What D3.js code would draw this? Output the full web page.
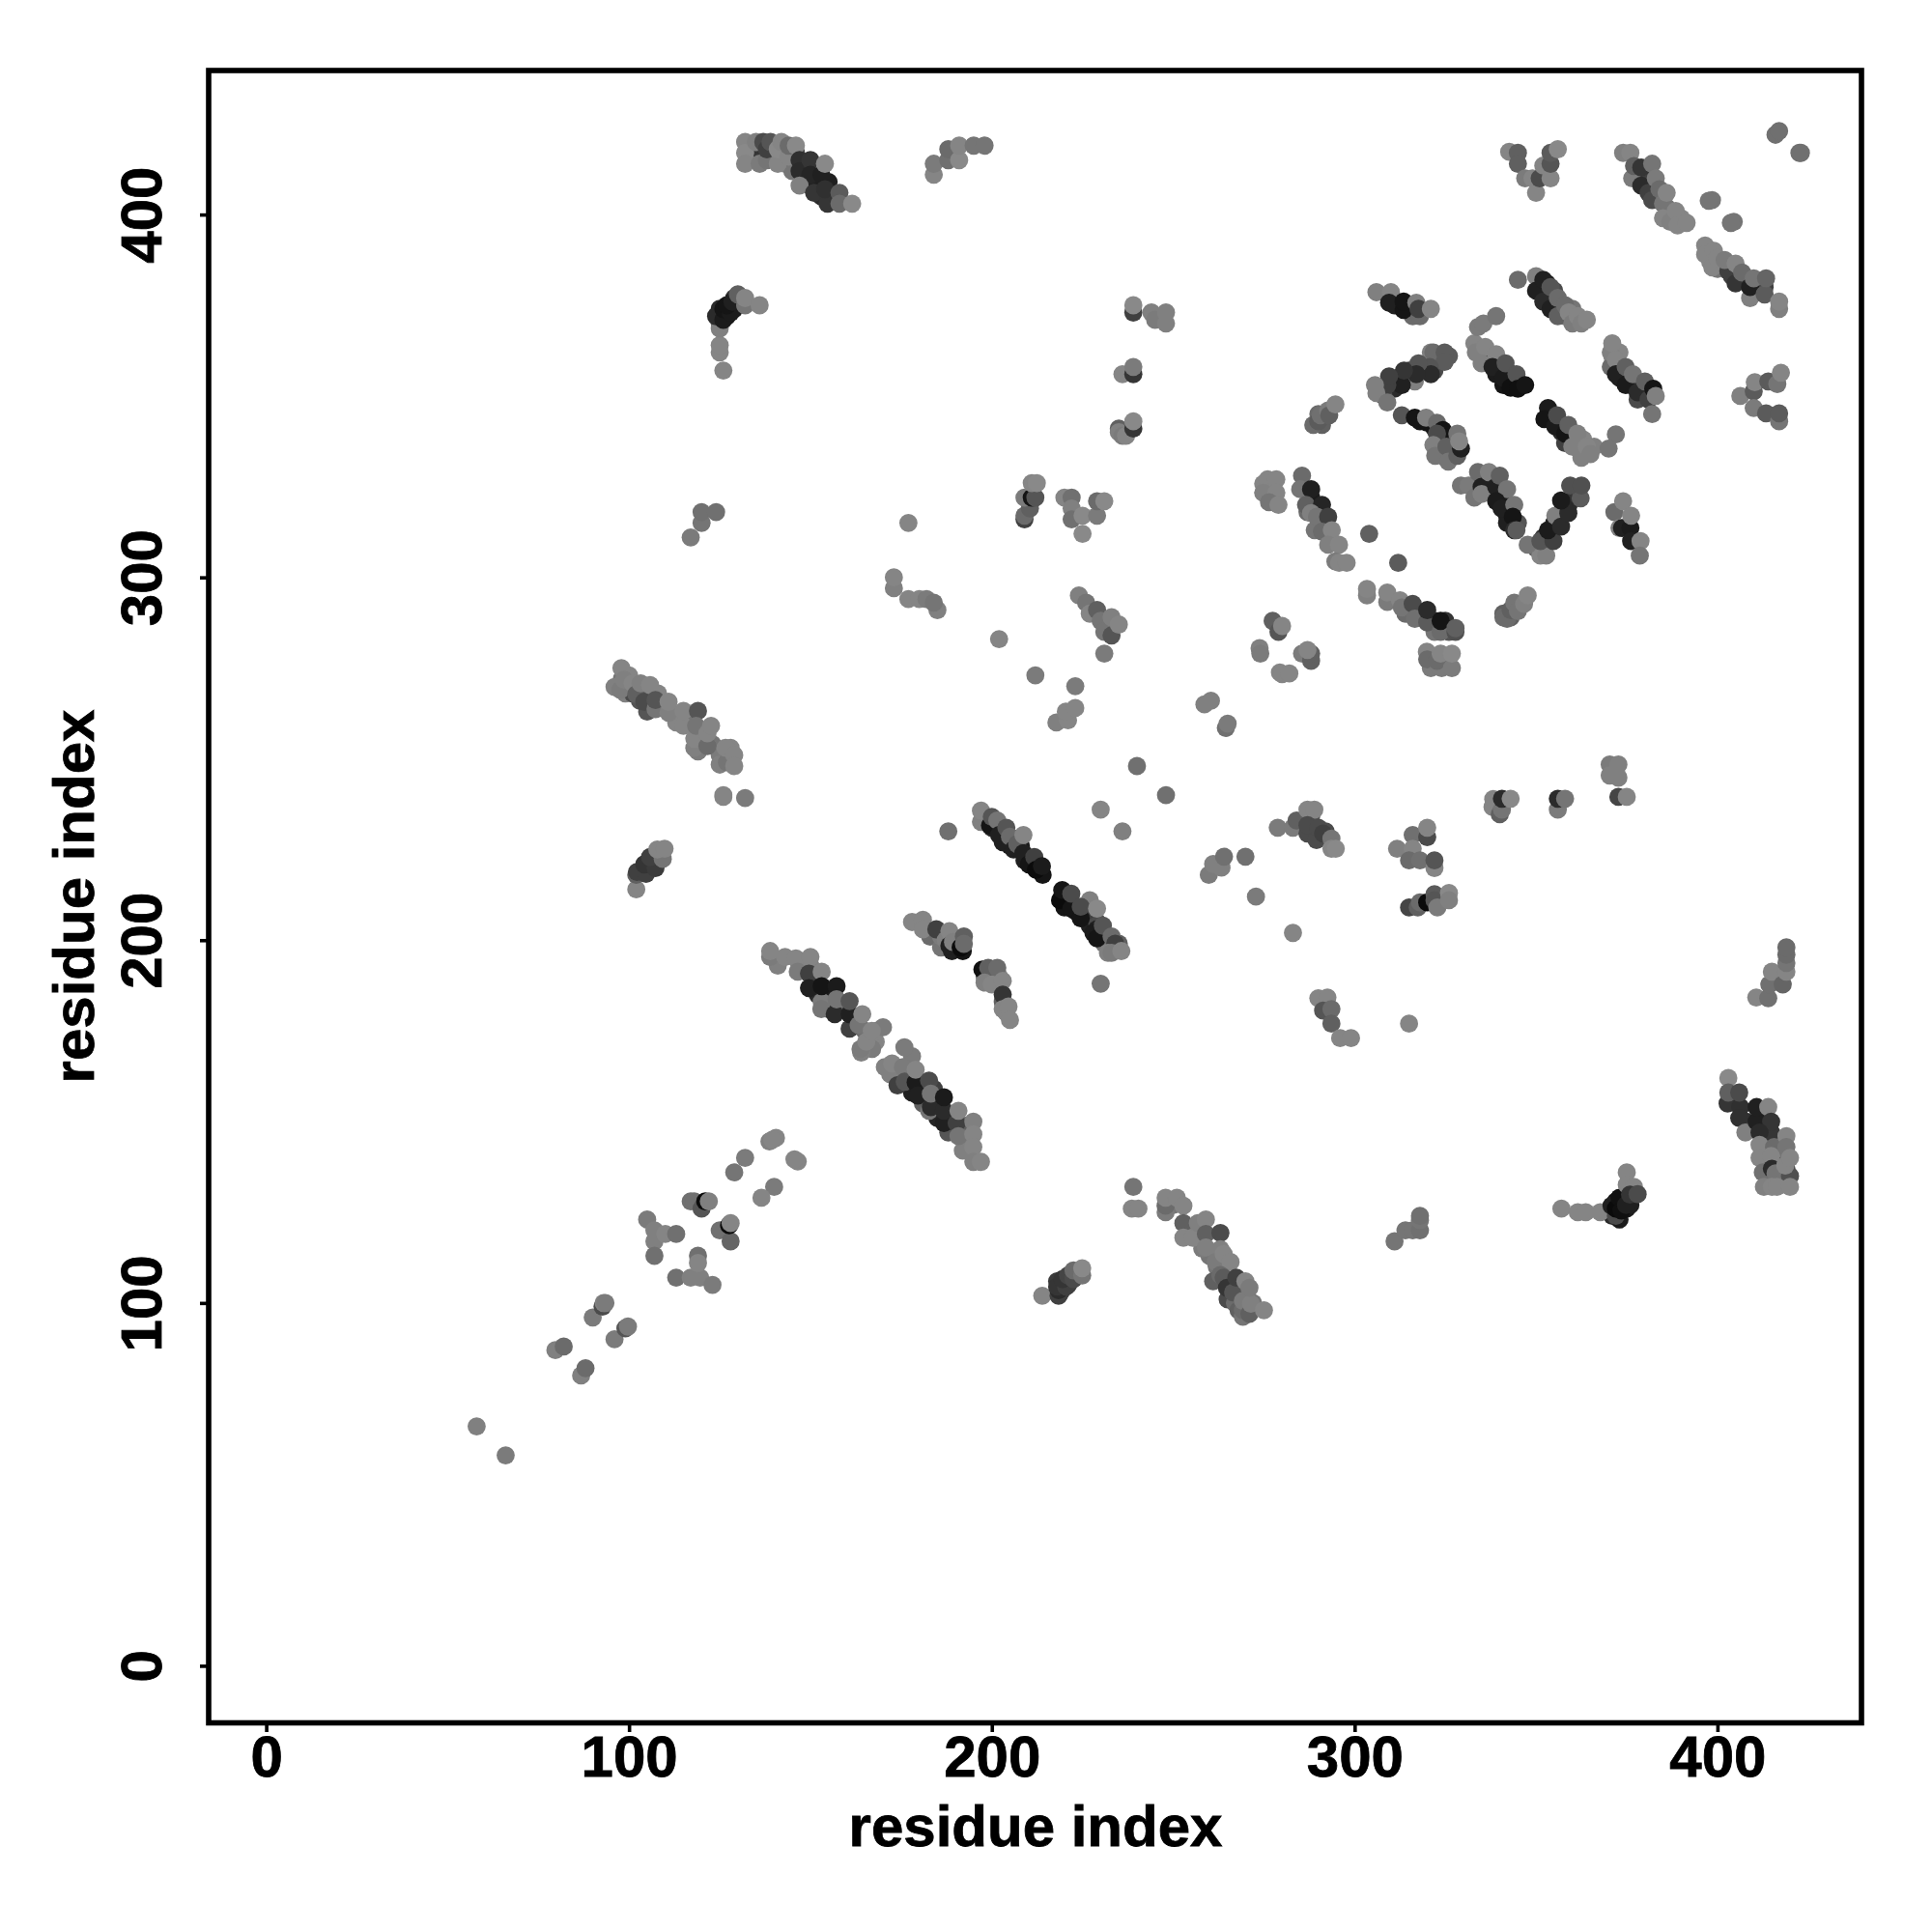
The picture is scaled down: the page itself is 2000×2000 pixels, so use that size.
<!DOCTYPE html>
<html><head><meta charset="utf-8"><script src="https://cdn.jsdelivr.net/npm/d3@7"></script>
<style>html,body{margin:0;background:#fff}svg{display:block}</style></head><body><div id="c"></div>
<script>
// each contact is [residue i, residue j, shade level]
const underLayer=[[398.5,404,110],[404.5,398,110],[140.5,145.5,125],[146.5,139,125],[138.7,144.5,120],[151,188,30],[155,185,25],[152,185,40],[158,182,30],[155,181,50],[162,178,60],[165,175,100],[160,181,110],[168,172,125],[167,170,115],[164,169,120],[168,175,125],[150,193,120],[147,193,125],[141,193,120],[178,168,115],[172,163,120],[178,163,110],[181,158,35],[185,155,30],[181,155,90],[185,151,35],[188,152,35],[184,159,60],[188,147,80],[192,149,90],[193,144,120],[192,142,120],[178,158,30],[174,160,60],[198,234,110],[200,231,40],[203,230,30],[205,226,20],[203,227,30],[206,228,40],[208,226,25],[210,222,25],[212,221,20],[209,222,30],[214,218,20],[220,212,15],[222,210,20],[220,209,20],[223,208,25],[225,207,30],[227,204,30],[229,205,70],[229,203,30],[231,200,40],[233,198,100],[231,199,110],[235,199,90],[226,208,60],[227,211,120],[337,361,100],[340,357,30],[342,357,30],[343,354,25],[339,356,25],[345,354,20],[336,360,60],[341,353,20],[351,380,20],[353,378,30],[355,375,40],[357,374,80],[358,372,110],[353,381,25],[355,379,70],[360,374,110],[372,358,60],[373,355,30],[375,355,40],[376,353,30],[378,353,60],[380,352,30],[378,349,70],[371,361,125],[373,362,125],[354,345,30],[356,342,30],[357,340,40],[358,337,60],[360,338,100],[363,338,125],[362,335,110],[366,336,120],[312,355,40],[315,357,60],[318,357,60],[311,352,40],[322,360,90],[322,357,70],[308,350,70],[326,361,85],[318,343,20],[322,341,30],[324,338,25],[326,338,30],[325,333,100],[328,336,60],[288,322,25],[290,317,50],[292,314,90],[287,318,100],[289,313,110],[318,290,60],[322,288,40],[314,290,100],[322,285,110],[326,285,80],[325,288,50],[337,326,30],[339,323,30],[341,321,30],[342,317,30],[343,320,25],[342,315,30],[345,315,80],[357,318,25],[355,315,30],[354,312,40],[352,311,50],[359,320,40],[361,323,50],[350,308,90],[380,411,50],[381,409,60],[383,406,50],[386,402,110],[384,404,90],[388,398,125],[407,382,40],[411,379,40],[408,382,70],[404,383,60],[400,385,110],[413,380,60],[398,387,125],[390,399,125],[134,417,120],[137,416,40],[140,417,60],[141,416,120],[143,414,125],[136,418,50],[148,410,35],[150,408,30],[152,408,30],[155,409,30],[153,405,40],[157,404,50],[149,413,40],[146,417,70],[145,412,110],[99,268,120],[101,268,70],[103,266,80],[105,264,60],[106,268,100],[108,268,125],[109,264,110],[113,262,120],[113,260,125],[117,261,110],[119,257,110],[123,254,110],[125,251,115],[119,252,115],[100,273,125],[98,272,110],[128,253,125],[105,263,80],[103,219,50],[105,221,50],[106,220,50],[107,223,60],[404,156,50],[408,150,45],[409,148,60],[412,152,35],[413,149,35],[417,144,100],[417,141,110],[416,138,50],[418,135,100],[414,135,110],[413,143,125],[419,137,70],[125,370,90],[127,372,20],[129,374,25],[131,376,100],[125,374,40],[129,377,50],[268,104,50],[265,101,70],[267,100,100],[266,105,60],[262,110,110],[260,113,110],[258,117,110],[254,120,110],[258,115,115],[270,102,120],[268,98,90],[272,100,110],[250,127,110],[261,106,90],[220,106,40],[219,103,55],[221,105,60],[223,108,60],[218,106,55],[372,128,20],[375,130,60],[371,124,40],[373,123,25],[375,126,25],[376,127,30],[289,229,60],[288,234,80],[286,232,80],[292,230,70],[290,345,100],[291,342,90],[341,290,90],[343,289,90],[183,201,100],[186,198,110],[189,197,30],[192,197,20],[199,190,20],[198,190,100],[202,190,125],[203,183,90],[204,180,125],[186,201,115],[311,375,30],[315,374,30],[316,372,100],[321,275,115],[325,277,110],[324,275,115]];
const lowStrand=[[58,66,120],[66,58,115],[79.7,87,120],[82,88,100],[86.8,80,120],[88,82,100],[90,96,115],[92.7,99,70],[93,100,120],[93.5,100,115],[96,90,115],[99,93,80],[99.7,93.5,115],[105,123,115],[107,120,120],[107,117,120],[107,113,105],[110,119,125],[113,119,105],[113,107,105],[117,107,120],[119.6,107,120],[119,113,105],[119,111,125],[123,105,115],[117,128,105],[118,128,105],[120,126,80],[121,128,10],[122,128,120],[125,120,105],[128,117,95],[127.6,121.4,10],[128,122,125],[132,140,115],[129,136,110],[140,132,115],[136.5,129,125],[139.5,145,125],[145.6,139.6,125]];
const longDiag=[[138.9,195.4,115],[138.9,197,125],[143,195.4,125],[146,195,125],[150,195.4,125],[146.5,191.3,115],[149.6,190.8,60],[153.1,191.3,125],[149.6,186.8,30],[153.1,183,115],[153,181,110],[153.1,187.3,20],[157.2,187.3,25],[156.7,179.6,40],[157.2,183.7,110],[160.8,175.6,60],[160.8,179.6,30],[160.8,183.2,80],[163.3,176.6,110],[164.3,179.6,125],[170,176,115],[163.8,170,115],[165.4,172,125],[166.9,175,125],[175.9,170.5,115],[170.5,165,120],[172.5,166,125],[175.5,165,115],[176,161,80],[179,160.8,25],[179,164.3,125],[179.6,157.2,30],[182.7,153,110],[183.2,154,40],[182.7,161.3,70],[183.2,157.7,110],[186.8,149.6,30],[186.8,153,40],[186.8,156.7,25],[190.3,149.6,60],[190.8,146,110],[190.8,153,125],[194.9,150,120],[194.9,146.5,125],[194.9,143,125],[194.9,138.9,120],[197,138.9,125]];
const midDiag=[[178,205,125],[181,205.6,125],[181,203,125],[184.7,203,60],[187.3,200,120],[188.3,202.5,125],[188.3,198.5,30],[189.3,199.5,120],[191.4,198,10],[192.3,201,90],[192.3,199,100],[197.4,191.9,15],[199,192.4,90],[201.5,192.4,100],[198,188.3,120],[200,187.8,125],[203,188.8,125],[203,185,50],[203,181,125],[204.6,181.7,125],[205,178,125]];
const upperDiag=[[197,232.6,120],[197,235.7,125],[199.5,231.6,20],[200,234,80],[201.5,233,110],[202,229,30],[204,231,80],[205,228.5,100],[206,225,30],[207,226.5,90],[208.7,224,30],[208.7,229,125],[210.2,220.9,20],[211.7,222.9,60],[212.2,219.4,10],[213.8,220.4,25],[218.8,211,10],[219.4,213.8,20],[221.9,208.7,20],[221.9,212.8,70],[224.5,206,20],[224.5,209.2,70],[228,202,25],[229,200.5,20],[230.6,204,80],[229,208.7,130],[233,201,100],[234,199,60],[232,196.5,120],[233,196.5,115],[235.7,197,125],[230,188,110],[188,230,105],[230,236,125],[236,230,120],[240,248,105],[248,240,105]];
const leftStrand=[[96,269.8,120],[97.6,269,115],[97.9,275,125],[98.6,271.8,120],[101,270.8,125],[102,267.8,90],[103.2,270.8,120],[104.2,265.7,70],[107.3,263.7,110],[105.8,270.3,125],[107.3,266.2,80],[110.9,262.7,120],[110.9,265.7,125],[115,259.1,125],[115,263.2,125],[118,253,120],[118,255.5,125],[119,263.2,80],[118.5,259.1,110],[121.6,253.5,100],[121.6,257,125],[122.6,259.1,125],[125,248.4,120],[127,249,110],[126.6,253,125],[129,251,125],[129,248,125],[126,240,125],[126,239.5,125],[132,239.2,115],[102,214,125],[102,218,90],[102.2,218.8,60],[104.7,218.3,60],[104.2,220.9,50],[107.3,219.9,55],[105.8,222.9,60],[109.3,222.4,110],[107.8,225,125],[109.8,225.2,125]];
const topLeft=[[132,420,125],[132,417,130],[132,414,125],[135,420,120],[136,414,115],[138,415,110],[137,420,70],[138,418,60],[139,420,80],[141,414,125],[141,418,130],[142,420,125],[144,416,125],[144,419,100],[146,419,130],[147,415,45],[147,412,40],[150,415,50],[150,411,35],[153,411,30],[154,414,130],[147,408,120],[151,406,50],[154.7,403,50],[154,407,45],[158,406,85],[158,403,100],[161.5,403,130],[184,411,125],[184,414,115],[188,415,105],[188,418,100],[191,415,130],[191,419,125],[195,419,110],[198,419,110]];
const hook=[[126,357,125],[125,362,125],[125,364,125],[125,368.6,120],[124.6,372,60],[124,372,40],[126,371,25],[126,374,20],[128,373,25],[127,375,20],[128.5,376,30],[130,378,90],[132,375,110],[132,377,125],[136,375,125],[117,311,115],[120,315,110],[120,318,105],[124,318,105],[177,315,125]];
const midCluster=[[173,297,120],[173,300,125],[177,294,125],[180,294,125],[182,294,115],[185,291,120],[184,293,110],[209,316,60],[209,317,100],[210.5,319,90],[209,322,115],[211,322,20],[212,322,80],[211,326,125],[212.4,326,130],[220,322,125],[222,322,105],[222,319,120],[222,316,105],[225,317,130],[225,312,130],[229,317,115],[229,321,100],[231,321,130],[202,283,125],[212,273,115],[223,270,115],[217.8,260,120],[221,260.6,125],[220.4,263,125],[223,264,125],[224,295,120],[226,293,110],[227,290,125],[229,291,90],[230,288,110],[231,279,115],[231,285,110],[233,284,80],[233,289,120],[235,287,125],[239,373,60],[239,375,130],[244,373,120],[245,371,115],[248,370,120],[248,373,120],[236,356,125],[239,356,50],[239,358,115],[235,341,90],[235,340,120],[236,339,115],[237,339,125],[239,341,50],[239,343,130]];
const scattered=[[258.6,265,120],[260.4,266,120],[264.5,258.5,105],[265,259.7,115],[259.8,218,115],[261,221,120],[263.3,220,120],[264,223,105],[269.9,223,105],[272.8,212,115],[283,202,125],[278.8,231,115],[283,231,115],[284,233,90],[287,236,125],[288.9,236,125],[287,229.4,70],[287,231.7,70],[289.5,227.6,70],[290,231,70],[291.3,229.4,60],[293.6,228,110],[293.6,225.2,125],[294.8,225.2,130],[315,209,65],[317.4,209,90],[318,210.4,100],[320,210.4,10],[322,212.7,85],[322,211,80],[322.8,209,115],[326,213,130],[326,211,120],[311.7,225.2,120],[316,229,105],[316,225.2,125],[315,222,100],[318,222,105],[320,228.4,70],[320,231,125],[322,219.9,125],[322,222,80],[338,236.7,125],[338.2,238.9,125],[340,234.7,90],[340.6,236,110],[340.6,239,40],[343,239,130],[356,236,115],[356,239,40],[358,239,110],[370.3,248.4,115],[370.3,245.4,120],[372.7,244.8,120],[372.7,248.4,120],[372.7,239.5,65],[375,239.5,125],[315,177,125],[290,184,125],[292.5,184.2,125],[291.3,180.6,80],[293.6,181,100],[293.6,177,90],[296,173,125],[299,173,125]];
const ringLeft=[[273.8,280.5,120],[274,279,115],[277.4,288,90],[279,285,80],[280,286.6,125],[279.4,273.8,125],[280,273.3,125],[282,273.5,125],[285.5,279,115],[288,277,90],[288,279,90],[287,280,125],[274.8,325.8,125],[276,327,125],[278.4,327,125],[274.8,323.3,120],[278.4,323.3,125],[276.4,320.7,110],[279,320,125],[285.5,328,100],[285,324.3,110],[288,324.3,30],[286.6,320,90],[291,320,35],[288,317.7,120],[289.6,316.7,110],[292.7,316.7,60],[291,312.6,100],[293.7,313,125],[292.7,309,120],[295.7,309,125],[294.7,304.4,115],[295.7,304,125],[297.8,304,125],[304,312,90],[312,304,85],[303.4,295,120],[303.4,296.8,125],[309,293.2,115],[309,295.8,125],[312.5,293.7,125],[313,291.7,110],[316,292.7,70],[316.6,288.6,105],[320,287.6,85],[320,291,40],[323.7,285,100],[323.7,288,20],[327.8,285,75],[327.8,286,90]];
const ringBottom=[[319.9,279.5,125],[320,277.4,100],[323.2,275.4,115],[322.7,277,100],[323.7,279,125],[326.8,275,115],[326.8,279,130],[341,289,100],[342,288.6,100],[343,291,90],[344,293,110],[345,290.7,110],[346.7,292.7,120],[347.7,295,125],[329.3,325.3,110],[331.4,325.3,115],[333,322,110],[334,329,100],[335,325,30],[337,329,120],[335,323,120],[339,325,30],[340,328,90],[342,324.3,110],[339,321,25],[340.5,319,30],[344,320,110],[343.6,316.7,20],[344,313,40],[344.6,313,85],[351.2,306,125],[352.8,306,120],[347.7,309,110],[351.2,310,80],[354.8,310,60],[353.3,313,25],[355.3,317,120],[356.9,314,40],[358.9,317.7,40],[356.9,321.2,25],[362.3,321.8,85],[359.4,325.3,75],[362.5,325.3,75],[371.6,318,100],[374,321,125],[373,313.6,120],[373.7,313.6,30],[376,313.6,25],[376.2,317,125],[376.2,310,30],[378.8,310,125],[378.6,306,110]];
const ringTop=[[306,378.6,120],[310,378.6,125],[309.5,375.7,30],[313.5,373.7,20],[313.5,376,20],[318,372,100],[317,375.7,120],[317.6,374,60],[321,374,125],[321,362,120],[321.7,362,100],[324.8,362,85],[324.8,359.4,85],[320.7,358,80],[316.6,354,120],[321,356,40],[317.6,359,80],[317,356,40],[313,353,30],[313.6,357,50],[309,353,60],[309.5,355.4,60],[305.6,353,120],[306,350.8,120],[309,348.2,110],[288.6,342,100],[290,343,85],[290.6,344.7,105],[292.7,346,115],[293,344.7,90],[294.7,347.7,125],[313,344.7,80],[316.6,344,20],[320,342.6,20],[319.7,344,120],[322.7,342.6,100],[324.3,340.6,20],[322.7,339.6,70],[321.7,336.5,120],[322.2,333.5,110],[325.3,336,90],[325.8,331.9,110],[328.3,333.5,90],[329.3,335.5,30],[328.3,339.6,110],[328.8,337.5,125],[353.3,346.7,25],[352.3,343.6,20],[355.3,341.6,25],[355.8,344.7,70],[358,339.6,20],[358.9,342,90],[360,336,120],[361.4,339.6,120],[362.5,333,120],[364,336,125],[365,334,120],[372,339.4,110],[370,335.5,110]];
const ringStrands=[[333,364.5,125],[333.4,362,120],[334,369,115],[335.5,370,115],[339,372,110],[336,363.5,125],[335,359,120],[339,361.5,125],[338,358,30],[341,355,25],[341.6,359,80],[343,352.3,15],[344.6,356,80],[345,352,15],[347,353,20],[345,382,100],[350,383,120],[350,379,30],[352,382,30],[352,376,40],[354,380,80],[354,374,30],[356,377,100],[356,372,90],[358,375,100],[359,373,125],[360,370,115],[361.5,372,125],[362.5,370,120],[364,371,125],[370.6,358,100],[370.6,362,120],[371,364.5,125],[372,360,125],[372,356,30],[374.7,353,25],[374.7,358,90],[376.7,356,110],[378,351,40],[380,354,90],[381,349,60],[382.3,352,20],[383,350,120],[382,345,110],[406.3,350,120],[410,351.3,85],[410.3,353.8,125],[414,354,85],[416.5,353.3,110],[417.5,356.4,125],[410,346.7,115],[413.4,345.2,85],[417,343,110],[417,345.2,85]];
const topRight=[[342.6,417.3,125],[345,417,90],[345,414,90],[347,410,115],[349,410,125],[350,406,125],[351,410,70],[352,413.5,125],[354,410,125],[354,414,80],[354,417,85],[356,418,130],[416,422,105],[417,423,105],[422.6,417,105],[423,417,105],[397.6,403.8,110],[403.7,397.7,110],[374,417,120],[376,417,125],[376.5,410,115],[377,413.4,90],[379,413,50],[379,408,40],[381,406,60],[382,404,70],[382,414,110],[383,410,115],[384,407,100],[385,403,110],[386,406,125],[385,399,125],[387,398,120],[388.5,401,125],[389,397,125],[391.5,397.7,125],[396.6,391.5,125],[396.6,389,125],[398.6,385.4,125],[399,390,125],[400,388,125],[403,384.4,60],[402,387.5,115],[405,381,50],[405,386.5,125],[406.8,384,100],[409,377,120],[409,380,30],[410,382.4,110],[413,378,85],[413.4,382.4,95],[417,374,120],[417,376,125]];
const lowerCenter=[[239,132,110],[238.6,126,125],[240.4,126,125],[213.9,102,125],[218.4,102,60],[218.4,103.5,40],[218,104.5,50],[220.5,104.5,60],[219.5,106.6,50],[221,107.6,65],[222.5,106.6,70],[222.5,109,100],[224.9,107.6,110],[224.9,109.6,130],[247.9,125,115],[247.9,126.8,100],[247.9,129,125],[251,129,125],[252.8,126.8,125],[252.8,122,90],[252.8,118,125],[255.4,118,125],[256.8,122,120],[259,123,125],[259,119,90],[263,119.3,70],[259,115.3,120],[263,114.8,120],[261.7,111.3,115],[263.9,113.5,125],[265.8,111.3,125],[263,107.7,100],[263.9,107,85],[264.8,104.2,50],[266.5,102.9,80],[267.4,107,60],[269.2,96.2,110],[269.2,98,100],[269.2,100.6,115],[271,97,90],[271.4,99.8,120],[269.9,106,125],[271,104.2,115],[275,98,125]];
const lowerRight=[[311,117,110],[314,120,110],[316,120,110],[318,120,105],[318,122.8,110],[318,124,105],[357,126,125],[361.5,125,125],[363.7,125,125],[367.7,125,125],[372,124,70],[370.8,126.8,30],[372,126,10],[373,129,15],[373.5,125.5,15],[374.8,127,30],[375,136,125],[375,132.6,125],[377,132,125],[375.9,129.9,50],[378,130,70],[410.7,184.2,125],[414,184,105],[414.3,187.8,105],[415,191.3,125],[418,187.8,95],[419,191.3,125],[419,193.7,110],[419,196,100],[419,198,100],[403,162,130],[402.8,155,50],[403,158,90],[406.3,154,45],[406,158,70],[406,151,45],[407.7,147,120],[410.8,150,30],[410.8,154,30],[414,154,125],[414.8,147,50],[414.8,150,50],[411.6,147,40],[411.6,143.6,125],[411.6,140,125],[415.6,143,100],[414.8,140.5,125],[412.5,136,105],[415,137,40],[416,135.7,110],[419,146,125],[419,143,110],[420,135,75],[418.7,137.9,125],[420,140,125],[412.8,132,120],[415,132,125],[416.4,132,125],[420,132,125]];

const contacts=[].concat(underLayer,lowStrand,longDiag,midDiag,upperDiag,leftStrand,topLeft,hook,midCluster,scattered,ringLeft,ringBottom,ringTop,ringStrands,topRight,lowerCenter,lowerRight);
const xTicks=[0,100,200,300,400], yTicks=[0,100,200,300,400];
const xTitle="residue index", yTitle="residue index";

const W=2000,H=2000,L=217,R=1927,T=73,B=1783,FONT="'Liberation Sans',Arial,sans-serif",FS="60px";
const x=d3.scaleLinear().domain([-15.6,439.7]).range([L,R]);
const y=d3.scaleLinear().domain([-15.6,439.7]).range([B,T]);
const shade=d3.scaleLinear().domain([0,120,255]).range(["#000","#808080","#fff"]);
const svg=d3.select("#c").append("svg").attr("width",W).attr("height",H);
svg.append("rect").attr("width",W).attr("height",H).attr("fill","#fff");
svg.append("g").selectAll("circle").data(contacts).join("circle")
  .attr("cx",d=>x(d[0])).attr("cy",d=>y(d[1])).attr("r",9.4).attr("fill",d=>shade(d[2]));
svg.append("rect").attr("x",L-1).attr("y",T).attr("width",R-L+1).attr("height",B-T+0.5).attr("fill","none").attr("stroke","#000").attr("stroke-width",5.6);
const gx=svg.append("g").attr("transform",`translate(0,${B})`).call(d3.axisBottom(x).tickValues(xTicks).tickSize(10));
const gy=svg.append("g").attr("transform",`translate(${L},0)`).call(d3.axisLeft(y).tickValues(yTicks).tickSize(10));
[gx,gy].forEach(g=>{g.select(".domain").remove();g.selectAll("line").attr("stroke","#000").attr("stroke-width",3.6);
  g.selectAll("text").attr("fill","#000").attr("stroke","#000").attr("stroke-width",0.8).style("font-family",FONT).style("font-weight","bold").style("font-size",FS).attr("dominant-baseline","middle").attr("dy",null);});
gy.selectAll("text").attr("x",0).attr("y",0).attr("text-anchor","middle").attr("transform","translate(-66,0) rotate(-90)");
gx.selectAll("text").attr("y",40);
svg.append("text").attr("x",(L+R)/2).attr("y",1895).attr("text-anchor","middle").attr("dominant-baseline","middle").attr("stroke","#000").attr("stroke-width",0.8)
  .style("font-family",FONT).style("font-weight","bold").style("font-size",FS).text(xTitle);
svg.append("text").attr("transform",`translate(81,${(T+B)/2}) rotate(-90)`).attr("text-anchor","middle").attr("dominant-baseline","middle").attr("stroke","#000").attr("stroke-width",0.8)
  .style("font-family",FONT).style("font-weight","bold").style("font-size",FS).text(yTitle);
</script></body></html>
